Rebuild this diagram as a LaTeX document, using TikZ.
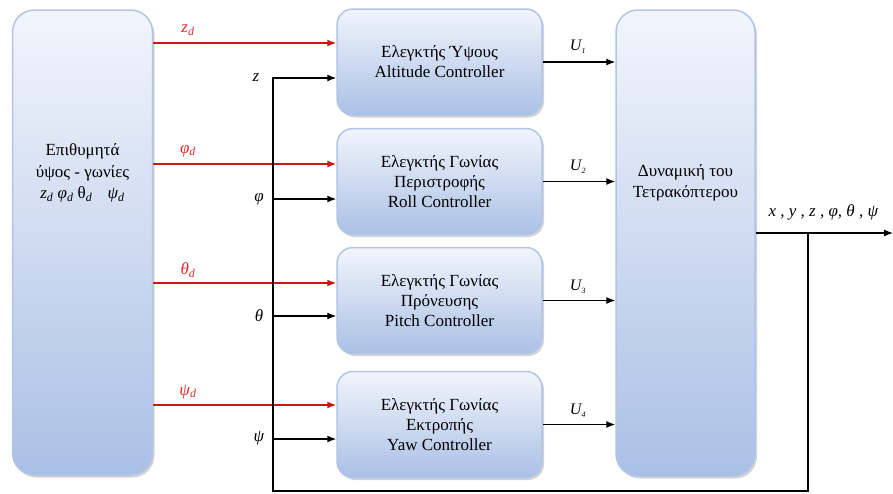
\documentclass[tikz,border=0pt]{standalone}
\usepackage{fontspec}
\setmainfont{Liberation Serif}
\usetikzlibrary{shadows,arrows.meta,calc}

\definecolor{boxtop}{RGB}{242,245,252}
\definecolor{boxbot}{RGB}{170,192,229}
\definecolor{boxedge}{RGB}{176,197,232}
\definecolor{refred}{RGB}{200,25,25}
\definecolor{labred}{RGB}{235,40,40}

\tikzset{
  blockbox/.style={draw=boxedge, line width=1.5pt, top color=boxtop, bottom color=boxbot,
    drop shadow={opacity=0.35, shadow xshift=2pt, shadow yshift=-2.5pt}, inner sep=0pt},
  ctrl/.style={blockbox, rounded corners=16pt, minimum width=205pt, minimum height=106pt,
    align=center, font=\fontsize{17}{20}\selectfont},
  tallbox/.style={blockbox, rounded corners=22pt, minimum width=140pt, minimum height=465pt},
  boxtext/.style={align=center, font=\fontsize{17}{21.5}\selectfont},
  refarrow/.style={draw=refred, line width=1.2pt, -{Latex[length=9pt,width=7pt]}},
  sigarrow/.style={draw=black, line width=1.2pt, -{Latex[length=9pt,width=7pt]}},
  redlab/.style={text=labred, font=\fontsize{17}{18}\selectfont\itshape},
  blklab/.style={text=black, font=\fontsize{17}{18}\selectfont\itshape},
  ulab/.style={text=black, font=\fontsize{16}{18}\selectfont\itshape},
}
\newcommand{\lowsub}[1]{\textsubscript{#1}}
\newcommand{\tinysub}[1]{\textsubscript{\fontsize{8}{8}\selectfont #1}}

\begin{document}
\begin{tikzpicture}[x=1pt,y=-1pt]
  \useasboundingbox (0,0) rectangle (893,493);

  % blocks
  \node[tallbox] (src) at (82.5,242.5) {};
  \node[boxtext] (srctext) at (82.5,173)
    {Επιθυμητά\\ύψος - γωνίες\\\textit{z\lowsub{d}} \textit{φ\lowsub{d}} θ\lowsub{\textit{d}}\hspace{0.9em}\textit{ψ\lowsub{d}}};

  \node[ctrl] (c1) at (439.5,62) {Ελεγκτής Ύψους\\Altitude Controller};
  \node[ctrl] (c2) at (439.5,181.5) {Ελεγκτής Γωνίας\\Περιστροφής\\Roll Controller};
  \node[ctrl] (c3) at (439.5,300.5) {Ελεγκτής Γωνίας\\Πρόνευσης\\Pitch Controller};
  \node[ctrl] (c4) at (439.5,424.5) {Ελεγκτής Γωνίας\\Εκτροπής\\Yaw Controller};

  \node[tallbox, minimum width=139pt, minimum height=466pt] (dyn) at (685.5,243) {};
  \node[boxtext] (dyntext) at (685.5,183) {Δυναμική του\\Τετρακόπτερου};

  % input points on the controllers
  \coordinate (zdin)  at ($(c1.west)+(0,-19)$);
  \coordinate (zin)   at ($(c1.west)+(0,16)$);
  \coordinate (phdin) at ($(c2.west)+(0,-17.5)$);
  \coordinate (phin)  at ($(c2.west)+(0,17.5)$);
  \coordinate (thdin) at ($(c3.west)+(0,-17.5)$);
  \coordinate (thin)  at ($(c3.west)+(0,15.5)$);
  \coordinate (psdin) at ($(c4.west)+(0,-19.5)$);
  \coordinate (psin)  at ($(c4.west)+(0,14.5)$);

  % reference signals
  \draw[refarrow] (src.east |- zdin)  -- (zdin);
  \draw[refarrow] (src.east |- phdin) -- (phdin);
  \draw[refarrow] (src.east |- thdin) -- (thdin);
  \draw[refarrow] (src.east |- psdin) -- (psdin);

  \node[redlab] at (188,30)  {z\lowsub{d}};
  \node[redlab] at (188,151) {φ\lowsub{d}};
  \node[redlab] at (188,270) {θ\lowsub{d}};
  \node[redlab] at (188,392) {ψ\lowsub{d}};

  % control outputs
  \draw[sigarrow] (c1.east) -- (dyn.west |- c1.east);
  \draw[sigarrow] (c2.east) -- (dyn.west |- c2.east);
  \draw[sigarrow] (c3.east) -- (dyn.west |- c3.east);
  \draw[sigarrow] (c4.east) -- (dyn.west |- c4.east);

  \node[ulab] at (578,47)  {U\tinysub{1}};
  \node[ulab] at (578,167) {U\tinysub{2}};
  \node[ulab] at (578,287) {U\tinysub{3}};
  \node[ulab] at (578,411) {U\tinysub{4}};

  % state output and feedback bus
  \coordinate (yout)   at ($(dyn.east)+(0,-10)$);
  \coordinate (outend) at (893,233);
  \coordinate (tap)    at (808,233);
  \coordinate (busbot) at (273,491);

  \draw[sigarrow] (yout) -- (outend);
  \node[blklab, anchor=west] at (765,212) {x , y , z , φ, θ , ψ};

  \draw[sigarrow] (tap) |- (busbot) |- (zin);
  \draw[sigarrow] (busbot |- phin) -- (phin);
  \draw[sigarrow] (busbot |- thin) -- (thin);
  \draw[sigarrow] (busbot |- psin) -- (psin);

  \node[blklab] at (256,78)  {z};
  \node[blklab] at (259,199) {φ};
  \node[blklab] at (259,316) {θ};
  \node[blklab] at (259,438) {ψ};
\end{tikzpicture}
\end{document}
